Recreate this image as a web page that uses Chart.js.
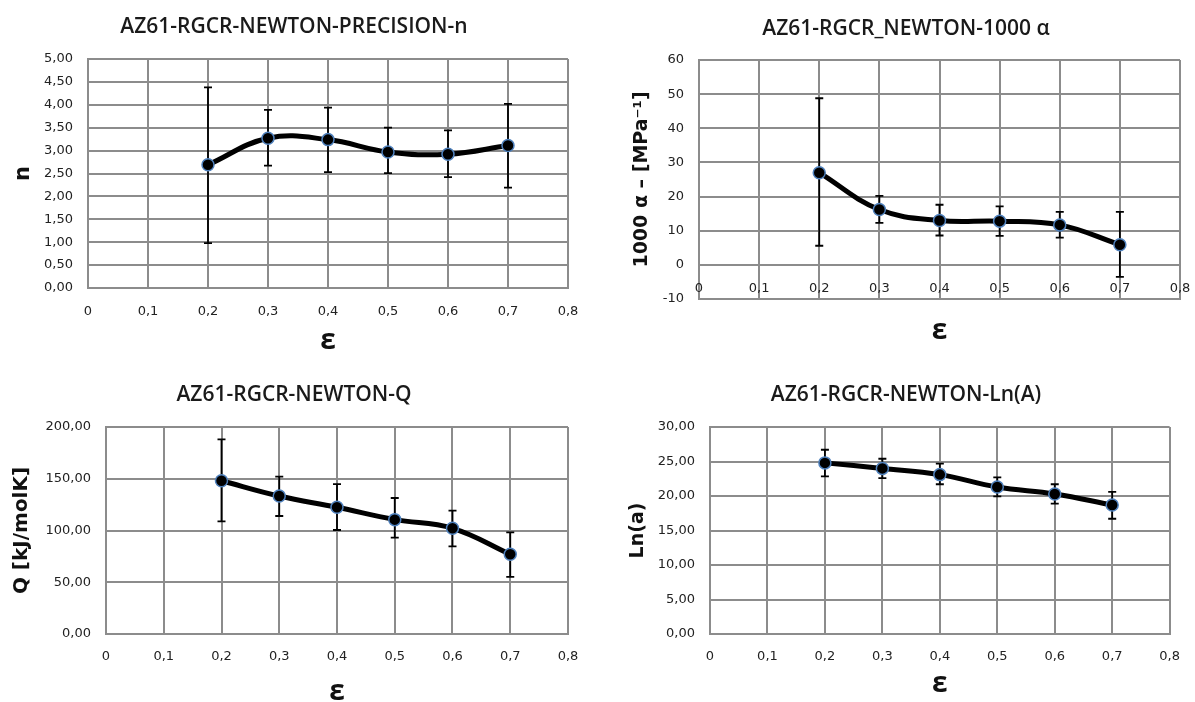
<!DOCTYPE html>
<html>
<head>
<meta charset="utf-8">
<script src="https://cdn.jsdelivr.net/npm/chart.js@4.4.1/dist/chart.umd.min.js"></script>
<style>
  body { margin: 0; background: #fff; width: 1195px; height: 702px; overflow: hidden; position: relative; }
  .panel { position: absolute; }
</style>
</head>
<body>
<div class="panel" style="left:0;top:0;width:596px;height:351px"><canvas id="chartN"></canvas></div>
<div class="panel" style="left:598px;top:0;width:597px;height:351px"><canvas id="chartAlpha"></canvas></div>
<div class="panel" style="left:0;top:351px;width:596px;height:351px"><canvas id="chartQ"></canvas></div>
<div class="panel" style="left:598px;top:351px;width:597px;height:351px"><canvas id="chartLnA"></canvas></div>
<script>
var strainValues = [0.2, 0.3, 0.4, 0.5, 0.6, 0.7];
var xTickLabels = ["0", "0,1", "0,2", "0,3", "0,4", "0,5", "0,6", "0,7", "0,8"];

var nValues = [2.69, 3.27, 3.24, 2.97, 2.92, 3.11];
var nLow = [0.98, 2.67, 2.53, 2.51, 2.42, 2.19];
var nHigh = [4.38, 3.89, 3.94, 3.50, 3.44, 4.02];
var nTickLabels = ["0,00", "0,50", "1,00", "1,50", "2,00", "2,50", "3,00", "3,50", "4,00", "4,50", "5,00"];

var alphaValues = [27.0, 16.2, 13.0, 12.8, 11.7, 5.9];
var alphaLow = [5.6, 12.3, 8.6, 8.5, 8.0, -3.5];
var alphaHigh = [48.8, 20.2, 17.6, 17.1, 15.5, 15.5];
var alphaTickLabels = ["-10", "0", "10", "20", "30", "40", "50", "60"];

var qValues = [148.1, 133.3, 122.4, 110.5, 102.1, 77.0];
var qLow = [108.9, 114.0, 100.5, 93.1, 84.7, 55.1];
var qHigh = [188.0, 152.0, 144.9, 131.4, 119.2, 98.2];
var qTickLabels = ["0,00", "50,00", "100,00", "150,00", "200,00"];

var lnAValues = [24.8, 24.0, 23.1, 21.3, 20.3, 18.7];
var lnALow = [22.85, 22.6, 21.7, 19.95, 18.9, 16.7];
var lnAHigh = [26.7, 25.4, 24.7, 22.7, 21.7, 20.6];
var lnATickLabels = ["0,00", "5,00", "10,00", "15,00", "20,00", "25,00", "30,00"];

var gridGray = '#8c8c8c';

// vertical error bars with small caps, drawn under the points
var errorBarPlugin = {
    id: 'errorBars',
    beforeDatasetsDraw(chart, args, opts) {
        if (!opts.low) return;
        const ctx = chart.ctx;
        const xs = chart.scales.x, ys = chart.scales.y;
        ctx.save();
        ctx.strokeStyle = '#000';
        ctx.lineWidth = 1.8;
        strainValues.forEach((sx, i) => {
            const px = xs.getPixelForValue(sx);
            const top = ys.getPixelForValue(opts.high[i]);
            const bot = ys.getPixelForValue(opts.low[i]);
            ctx.beginPath();
            ctx.moveTo(px, top); ctx.lineTo(px, bot);
            ctx.moveTo(px - 4, top); ctx.lineTo(px + 4, top);
            ctx.moveTo(px - 4, bot); ctx.lineTo(px + 4, bot);
            ctx.stroke();
        });
        ctx.restore();
    }
};
Chart.register(errorBarPlugin);

function makeChart(id, cfg) {
    return new Chart(id, {
        type: 'line',
        data: {
            datasets: [{
                data: strainValues.map((x, i) => ({ x: x, y: cfg.values[i] })),
                borderColor: '#000',
                borderWidth: 5,
                tension: 0.4,
                pointRadius: 6,
                pointBackgroundColor: '#000',
                pointBorderColor: '#4f81bd',
                pointBorderWidth: 1.5
            }]
        },
        options: {
            responsive: true,
            maintainAspectRatio: false,
            animation: false,
            events: [],
            layout: { padding: { left: cfg.padLeft, right: cfg.padRight, top: 0, bottom: 0 } },
            plugins: {
                legend: { display: false },
                tooltip: { enabled: false },
                title: {
                    display: true,
                    text: cfg.title,
                    color: '#1a1a1a',
                    font: { family: 'Open Sans', size: 21, weight: '600' },
                    padding: { top: cfg.titleTop, bottom: cfg.titleBottom }
                },
                errorBars: { low: cfg.low, high: cfg.high }
            },
            scales: {
                x: {
                    type: 'linear',
                    min: 0, max: 0.8,
                    afterFit: s => { s.height = cfg.xHeight; },
                    ticks: {
                        stepSize: 0.1,
                        mirror: !!cfg.xMirror,
                        z: cfg.xMirror ? 1 : 0,
                        padding: cfg.xTickPad,
                        color: '#222',
                        font: { family: 'DejaVu Sans', size: 13 },
                        callback: (v, i) => xTickLabels[i]
                    },
                    grid: { color: gridGray, lineWidth: 2, drawTicks: false },
                    border: { color: gridGray, width: 2 },
                    title: {
                        display: true,
                        text: 'ε',
                        color: '#111',
                        font: { family: 'Open Sans', size: 28, weight: 'bold' },
                        padding: { top: 0, bottom: cfg.epsPad }
                    }
                },
                y: {
                    min: cfg.yMin, max: cfg.yMax,
                    afterFit: s => { s.width = cfg.yWidth; },
                    ticks: {
                        stepSize: cfg.yStep,
                        padding: 15,
                        color: '#222',
                        font: { family: 'DejaVu Sans', size: 13 },
                        callback: (v, i) => cfg.yTicks[i]
                    },
                    grid: { color: gridGray, lineWidth: 2, drawTicks: false },
                    border: { color: gridGray, width: 2 },
                    title: {
                        display: true,
                        text: cfg.yTitle,
                        color: '#111',
                        font: { family: 'DejaVu Sans', size: cfg.yTitleSize, weight: 'bold' },
                        padding: { top: cfg.yTitlePad, bottom: 0 }
                    }
                }
            }
        }
    });
}

makeChart('chartN', {
    title: 'AZ61-RGCR-NEWTON-PRECISION-n',
    values: nValues, low: nLow, high: nHigh,
    yMin: 0, yMax: 5, yStep: 0.5, yTicks: nTickLabels,
    yTitle: 'n', yTitleSize: 21, yTitlePad: -9,
    padLeft: 20, padRight: 28, yWidth: 68,
    titleTop: 14.2, titleBottom: 19.6,
    xHeight: 63, xTickPad: 16, epsPad: -6.8
});

// labels of this x axis sit just under the 0 line, inside the plot
makeChart('chartAlpha', {
    title: 'AZ61-RGCR_NEWTON-1000 α',
    values: alphaValues, low: alphaLow, high: alphaHigh,
    yMin: -10, yMax: 60, yStep: 10, yTicks: alphaTickLabels,
    yTitle: '1000 α – [MPa⁻¹]', yTitleSize: 19, yTitlePad: -1.4,
    padLeft: 34, padRight: 15, yWidth: 67,
    titleTop: 16.2, titleBottom: 18.6,
    xHeight: 52, xMirror: true, xTickPad: 2.2, epsPad: 3.2
});

makeChart('chartQ', {
    title: 'AZ61-RGCR-NEWTON-Q',
    values: qValues, low: qLow, high: qHigh,
    yMin: 0, yMax: 200, yStep: 50, yTicks: qTickLabels,
    yTitle: 'Q [kJ/molK]', yTitleSize: 20, yTitlePad: -10,
    padLeft: 20, padRight: 28, yWidth: 86,
    titleTop: 31.2, titleBottom: 19.6,
    xHeight: 68, xTickPad: 15, epsPad: -6.8
});

makeChart('chartLnA', {
    title: 'AZ61-RGCR-NEWTON-Ln(A)',
    values: lnAValues, low: lnALow, high: lnAHigh,
    yMin: 0, yMax: 30, yStep: 5, yTicks: lnATickLabels,
    yTitle: 'Ln(a)', yTitleSize: 19, yTitlePad: -3,
    padLeft: 32, padRight: 13, yWidth: 80,
    titleTop: 31.2, titleBottom: 19.6,
    xHeight: 68, xTickPad: 15, epsPad: 1.2
});
</script>
</body>
</html>
